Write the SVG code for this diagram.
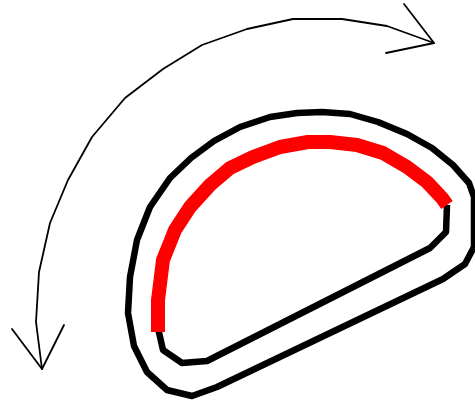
<svg xmlns="http://www.w3.org/2000/svg" width="475" height="405" viewBox="0 0 475 405">
<style>
.thin{fill:none;stroke:#000;stroke-width:1.8;stroke-linejoin:round;stroke-linecap:round}
.thick{fill:none;stroke:#000;stroke-width:6.5;stroke-linejoin:round}
.red{fill:none;stroke:#f00;stroke-width:14;stroke-linejoin:round;stroke-linecap:butt}
</style>
<rect width="475" height="405" fill="#fff"/>
<g id="rotation-arrow">
<polyline class="thin" points="42,369 36,322 39,272 50,223 68,180 92,137 125,98 163,69 202,45 247,29 293,19 342,19 387,26 434,43"/>
<polyline class="thin" points="404,4 434,43 386,53"/>
<polyline class="thin" points="12,329 42,369 64,325"/>
</g>
<g id="outer-loop">
<path class="thick" d="M322,112 L350,114 L378,122 L407,134 L432,148 L453,165 L469,183 L474,197 L474,247 L465,264 L443,279 L217,387 L192,396 L167,390 L147,372 L134,346 L128,313 L130,277 L137,240 L150,207 L170,178 L191,158 L214,141 L240,127 L270,117 L297,113 Z"/>
</g>
<g id="inner-loop">
<polyline class="thick" points="158,328 163,350 182,363 207,361 430,248 446,232 447,205"/>
</g>
<g id="red-arc">
<polyline class="red" points="158,332 158,300 163,260 175,230 190,207 210,185 230,168 253,157 280,147 308,142 330,142 357,145 383,153 407,167 427,182 442,198 447,205"/>
</g>
</svg>
